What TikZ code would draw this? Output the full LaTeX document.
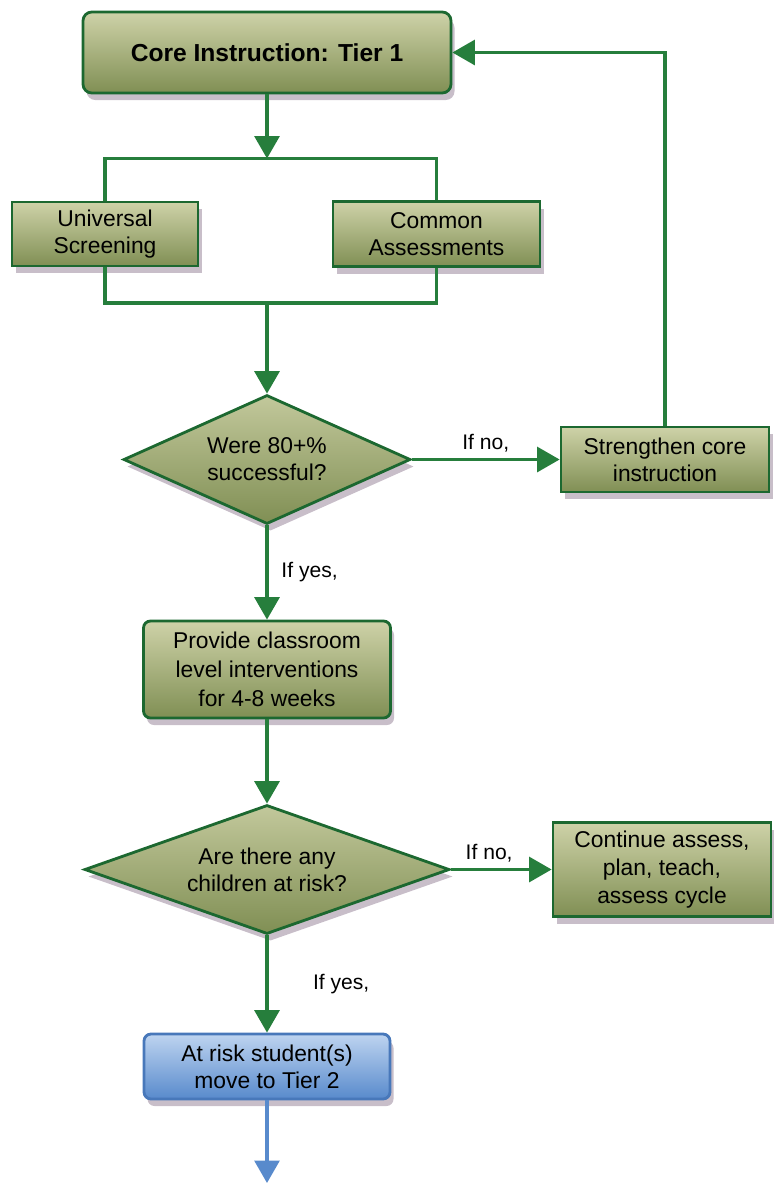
\documentclass[tikz,border=0pt]{standalone}
\usepackage{fontspec}
\setmainfont{Liberation Sans}
\usepackage{xcolor}
\usepackage{tikz}
\usetikzlibrary{arrows.meta,calc,positioning,shapes.geometric,shadows}
\definecolor{boxtop}{RGB}{206,210,168}
\definecolor{boxbot}{RGB}{128,143,84}
\definecolor{edgegreen}{RGB}{28,104,48}
\definecolor{flowgreen}{RGB}{38,126,60}
\definecolor{bluetop}{RGB}{190,212,240}
\definecolor{bluebot}{RGB}{88,138,204}
\definecolor{blueedge}{RGB}{72,120,186}
\definecolor{shade}{RGB}{186,174,188}

\begin{document}
\begin{tikzpicture}[font=\fontsize{13}{15.5}\selectfont,
  stepbox/.style={draw=edgegreen,line width=1.6pt,top color=boxtop,bottom color=boxbot,align=center,inner sep=2pt,
    drop shadow={shadow xshift=2pt,shadow yshift=-4pt,fill=shade,opacity=0.8}},
  decide/.style={diamond,draw=edgegreen,line width=1.6pt,top color=boxtop!85!boxbot,bottom color=boxbot,align=center,inner sep=1pt,
    drop shadow={shadow xshift=2pt,shadow yshift=-4pt,fill=shade,opacity=0.8}},
  link/.style={draw=flowgreen,line width=1.8pt},
  flow/.style={link,-{Triangle[length=4.5mm,width=5mm]}},
  lab/.style={font=\fontsize{12}{14}\selectfont}]
\useasboundingbox (0,0) rectangle (15.46,-23.72);
\node[stepbox,rounded corners=5pt,minimum width=7.36cm,minimum height=1.62cm,font=\fontsize{14}{16}\selectfont\bfseries] (core) at (5.34,-1.05) {Core Instruction: Tier 1};
\node[stepbox,minimum width=3.72cm,minimum height=1.28cm] (univ) at (2.10,-4.68) {Universal\\Screening};
\node[stepbox,minimum width=4.14cm,minimum height=1.30cm] (common) at (8.73,-4.68) {Common\\Assessments};
\coordinate (topbar) at (5.34,-3.17);
\coordinate (botbar) at (5.34,-6.06);
\node[decide,aspect=2.2,minimum width=5.74cm,minimum height=2.58cm] (succ) at (5.34,-9.19) {Were 80+\%\\successful?};
\node[stepbox,minimum width=4.16cm,minimum height=1.30cm] (strength) at (13.30,-9.19) {Strengthen core\\instruction};
\node[stepbox,rounded corners=4pt,minimum width=4.94cm,minimum height=1.94cm,font=\fontsize{13}{16.5}\selectfont] (provide) at (5.34,-13.39) {Provide classroom\\level interventions\\for 4-8 weeks};
\node[decide,aspect=2.8,minimum width=7.30cm,minimum height=2.58cm] (risk) at (5.34,-17.39) {Are there any\\children at risk?};
\node[stepbox,minimum width=4.36cm,minimum height=1.88cm,font=\fontsize{13}{16}\selectfont] (cycle) at (13.24,-17.39) {Continue assess,\\plan, teach,\\assess cycle};
\node[stepbox,rounded corners=4pt,draw=blueedge,top color=bluetop,bottom color=bluebot,minimum width=4.92cm,minimum height=1.30cm] (tier2) at (5.34,-21.33) {At risk student(s)\\move to Tier 2};
\coordinate (tierend) at (5.34,-23.66);
\draw[flow] (core.south) -- (topbar);
\draw[link] (univ.north) |- (topbar) -| (common.north);
\draw[link] (univ.south) |- (botbar) -| (common.south);
\draw[flow] (botbar) -- (succ.north);
\draw[flow] (succ.east) -- node[lab,above]{If no,} (strength.west);
\draw[flow] (strength.north) |- (core.east);
\draw[flow] (succ.south) -- node[lab,right,xshift=4pt]{If yes,} (provide.north);
\draw[flow] (provide.south) -- (risk.north);
\draw[flow] (risk.east) -- node[lab,above,pos=0.38]{If no,} (cycle.west);
\draw[flow] (risk.south) -- node[lab,right,xshift=22pt]{If yes,} (tier2.north);
\draw[flow,draw=bluebot] (tier2.south) -- (tierend);
\end{tikzpicture}
\end{document}
